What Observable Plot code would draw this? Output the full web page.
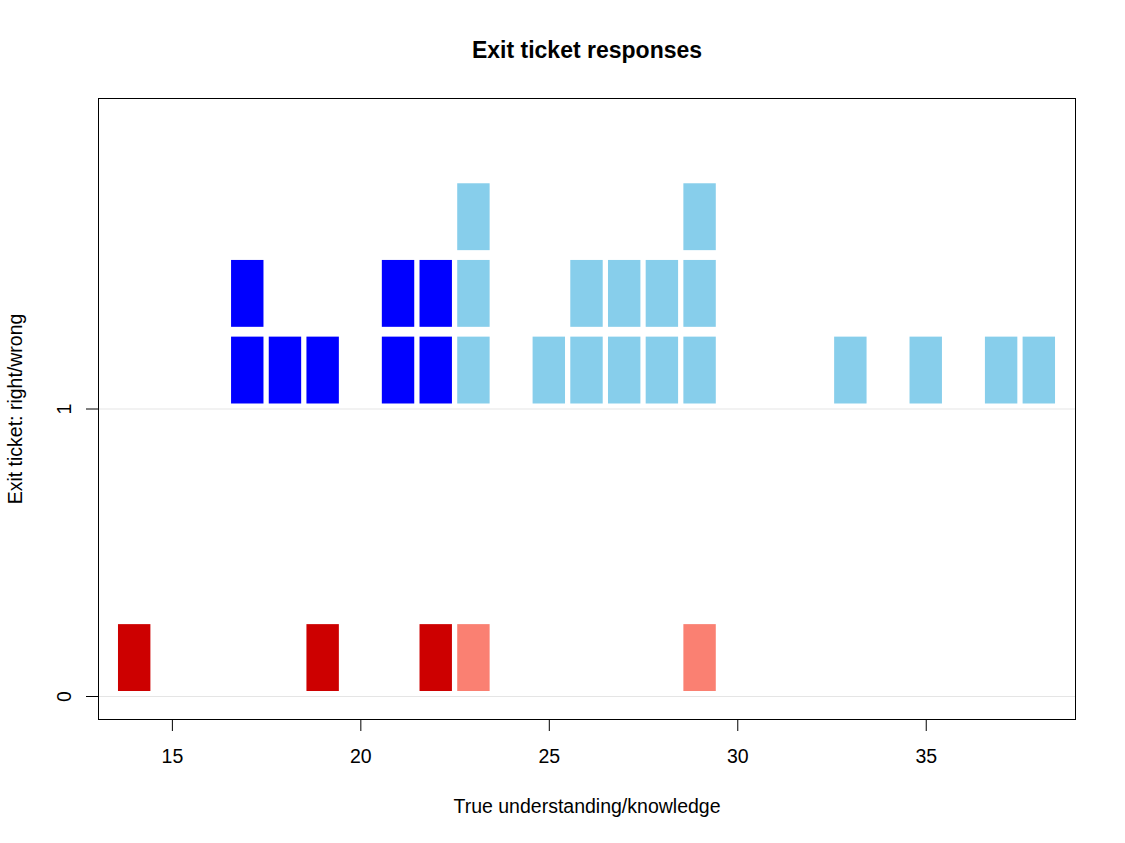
<!DOCTYPE html>
<html>
<head>
<meta charset="utf-8">
<script src="https://cdn.jsdelivr.net/npm/d3@7"></script>
<script src="https://cdn.jsdelivr.net/npm/@observablehq/plot@0.6"></script>
<style>
  html, body { margin: 0; padding: 0; background: #ffffff; }
  #chart { width: 1125px; height: 843px; }
</style>
</head>
<body>
<div id="chart"></div>
<script>
// ---- data ----
// Students whose exit ticket was right (y = 1)
const rightUnderstanding = [17, 18, 19, 21, 22, 23, 25, 26, 27, 28, 29, 33, 35, 37, 38];
const rightCounts        = [ 2,  1,  1,  2,  2,  3,  1,  2,  2,  2,  3,  1,  1,  1,  1];
const rightGroup         = ["right-low","right-low","right-low","right-low","right-low",
                            "right-high","right-high","right-high","right-high","right-high",
                            "right-high","right-high","right-high","right-high","right-high"];
// Students whose exit ticket was wrong (y = 0)
const wrongUnderstanding = [14, 19, 22, 23, 29];
const wrongCounts        = [ 1,  1,  1,  1,  1];
const wrongGroup         = ["wrong-low","wrong-low","wrong-low","wrong-high","wrong-high"];

const groups   = ["right-low", "right-high", "wrong-low", "wrong-high"];
const xTicks   = [15, 20, 25, 30, 35];
const yTicks   = [0, 1];
const title    = "Exit ticket responses";
const xTitle   = "True understanding/knowledge";
const yTitle   = "Exit ticket: right/wrong";

// ---- build stacked cells ----
const cells = [];
function addCells(xs, counts, grp, level) {
  xs.forEach((x, i) => {
    for (let k = 0; k < counts[i]; k++) {
      cells.push({x, level, k, group: grp[i]});
    }
  });
}
addCells(rightUnderstanding, rightCounts, rightGroup, 1);
addCells(wrongUnderstanding, wrongCounts, wrongGroup, 0);

const halfW = 0.43, step = 0.2667, gapBottom = 0.0174, cellTop = 0.25;
const FS = 19.5;

const chart = Plot.plot({
  width: 1125,
  height: 843,
  marginLeft: 98,
  marginRight: 50,
  marginTop: 98,
  marginBottom: 124,
  style: {fontFamily: "'Liberation Sans', Arial, sans-serif", fontSize: FS + "px", color: "black", background: "white"},
  x: {domain: [13.04, 38.96]},
  y: {domain: [-0.08, 2.08]},
  color: {domain: groups, range: ["#0000FF", "#87CEEB", "#CD0000", "#FA8072"]},
  marks: [
    Plot.ruleY(yTicks, {y: d => d, stroke: "#e5e5e5", strokeWidth: 1}),
    Plot.rect(cells, {
      x1: d => d.x - halfW,
      x2: d => d.x + halfW,
      y1: d => d.level + gapBottom + d.k * step,
      y2: d => d.level + cellTop + d.k * step,
      fill: "group"
    }),
    Plot.frame({stroke: "black", strokeWidth: 1}),
    Plot.axisX({ticks: xTicks, tickSize: 12, tickPadding: 18, fontSize: FS, label: null, stroke: "black"}),
    Plot.axisY({ticks: yTicks, tickSize: 12, tickFormat: () => "", label: null, stroke: "black"}),
    Plot.text(yTicks, {y: d => d, text: d => String(d), frameAnchor: "left", dx: -34, rotate: -90,
                       textAnchor: "middle", lineAnchor: "middle", fontSize: FS, fill: "black"}),
    Plot.text([title], {text: d => d, frameAnchor: "top", dy: -47.5, fontWeight: "bold",
                        fontSize: 23, lineAnchor: "middle", fill: "black"}),
    Plot.text([xTitle], {text: d => d, frameAnchor: "bottom", dy: 87, fontSize: FS,
                         lineAnchor: "middle", fill: "black"}),
    Plot.text([yTitle], {text: d => d, frameAnchor: "left", dx: -83, rotate: -90, fontSize: FS,
                         textAnchor: "middle", lineAnchor: "middle", fill: "black"})
  ]
});
document.getElementById("chart").appendChild(chart);
</script>
</body>
</html>
